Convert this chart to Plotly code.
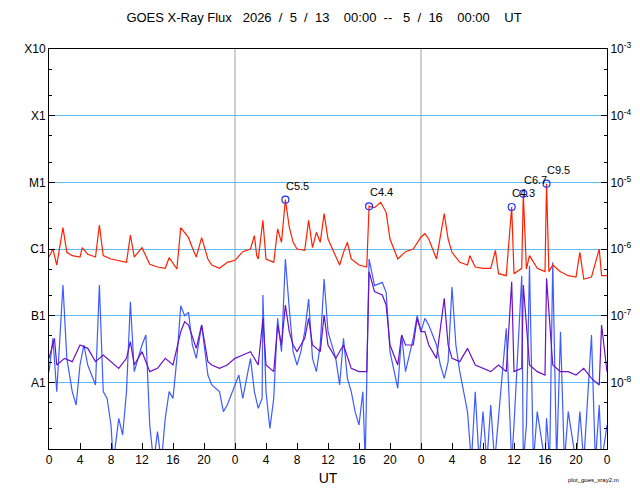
import plotly.graph_objects as go

# hours from 2026-05-13 00:00 UT, values are log10(W/m^2)
long_t = [0,0.5,1,1.8,2.3,3,4,4.3,5,6,6.5,7,8,9,10,10.5,11,12,13,14,15,15.5,16.5,17,17.5,18,18.5,19,19.7,20.5,21,22,23,24,
          25,26,26.5,26.8,27,27.6,28,29,29.5,30,30.5,31,31.5,32,33,33.5,34,34.5,35,35.5,36,37,37.5,38,38.5,39,40,41,41.3,42,42.8,43.5,44,45,46,47,48,
          48.5,49,50,51,51.5,52,53,54,54.3,55,56,57,57.6,58,59,59.7,60,61,61.2,61.6,62,63,64,64.2,64.5,65,66,67,68,68.5,69,70,71,71.3,72]
long_v = [-6.12,-6.0,-6.24,-5.68,-6.05,-6.1,-6.12,-5.98,-6.08,-6.12,-5.64,-6.1,-6.15,-6.17,-6.2,-5.79,-6.12,-5.98,-6.23,-6.27,-6.29,-6.13,-6.3,-5.68,-5.76,-5.83,-5.98,-6.12,-5.83,-6.15,-6.24,-6.29,-6.2,-6.17,
          -6.04,-6.0,-5.8,-6.1,-6.15,-5.57,-6.15,-6.2,-5.7,-5.9,-5.26,-5.67,-5.9,-6.0,-6.02,-5.57,-5.98,-5.75,-5.9,-5.47,-5.85,-6.1,-6.24,-6.05,-5.9,-6.15,-6.24,-6.27,-5.36,-5.38,-5.3,-5.45,-5.85,-6.15,-6.04,-6.0,-5.82,
          -5.77,-5.85,-6.15,-5.47,-5.85,-6.05,-6.2,-6.24,-6.1,-6.27,-6.29,-6.29,-6.02,-6.37,-6.4,-5.37,-6.37,-6.29,-5.17,-6.3,-6.1,-6.29,-6.34,-5.02,-6.34,-6.24,-6.34,-6.4,-6.42,-6.05,-6.45,-6.42,-6.0,-6.4,-6.4]

short_t = [0,0.7,1,2,3,4,5,6,7,8,9,10,10.5,11,12,13,14,15,16,17,17.5,18,19,19.7,20.5,21,22,23,24,
           25,26,27,27.6,28,29,29.5,30,30.5,31,31.5,32,33,33.5,34,35,35.5,36,37,38,39,40,41,41.3,42,43,43.5,44,45,45.5,46,47,47.5,48,
           48.5,49,50,51,51.5,52,53,54,55,56,57,58,59,59.7,60,61,61.2,62,63,64,64.2,65,66,67,68,69,70,71,71.3,72]
short_v = [-7.64,-7.34,-7.74,-7.64,-7.69,-7.44,-7.49,-7.69,-7.59,-7.69,-7.79,-7.64,-7.39,-7.74,-7.54,-7.84,-7.79,-7.64,-7.74,-7.24,-7.09,-7.14,-7.49,-7.14,-7.69,-7.74,-7.79,-7.74,-7.64,
           -7.59,-7.54,-7.74,-7.04,-7.74,-7.84,-7.14,-7.44,-6.84,-7.24,-7.44,-7.54,-7.34,-7.04,-7.44,-7.54,-6.99,-7.44,-7.64,-7.44,-7.79,-7.84,-7.84,-6.34,-6.64,-6.69,-6.84,-7.44,-7.74,-7.29,-7.44,-7.44,-7.04,-7.24,
           -7.24,-7.44,-7.64,-6.74,-7.44,-7.64,-7.69,-7.49,-7.74,-7.79,-7.84,-7.74,-7.84,-6.49,-7.84,-7.79,-6.54,-7.74,-7.84,-7.89,-6.44,-7.74,-7.84,-7.84,-7.89,-7.79,-7.94,-8.04,-7.14,-7.84]

blue_t = [0,0.5,1,1.8,2.3,3,3.5,4,4.5,5,6,6.5,7,7.5,8,8.3,9,9.5,10,10.5,11,12,12.5,13,13.5,14,14.5,15,15.5,16,16.5,17,17.5,18,18.5,19,19.7,20.5,21,22,22.5,23,24,
          24.5,25,26,26.5,27,27.5,27.6,28,28.5,29,29.5,30,30.5,31,31.5,32,32.5,33,33.5,34,34.5,35,35.5,36,37,37.5,38,38.5,39,39.5,40,40.5,40.8,41.3,42,43,43.5,44,44.5,45,45.5,46,47,47.5,48,
          48.5,49,50,50.5,51,51.5,52,52.5,53,53.5,54,54.5,55,55.5,56,56.5,57,57.5,58,59,59.7,60,61,61.2,61.6,62,62.5,63,64,64.2,64.6,65,65.5,66,66.5,67,68,68.5,69,70,70.5,71,71.3,72]
blue_v = [-7.84,-7.34,-8.14,-6.54,-7.64,-8.14,-8.34,-7.74,-7.44,-7.74,-8.04,-6.54,-8.14,-8.24,-8.64,-9.2,-8.54,-8.79,-8.14,-6.79,-7.84,-7.44,-7.29,-8.64,-9.2,-8.74,-9.2,-8.54,-8.14,-8.24,-7.64,-6.85,-7.0,-6.95,-7.44,-7.64,-7.14,-7.89,-8.04,-8.14,-8.44,-8.34,-8.04,
          -7.89,-8.24,-7.64,-8.14,-8.39,-8.24,-6.69,-8.14,-8.69,-8.24,-7.04,-7.54,-6.15,-6.89,-7.54,-7.74,-7.54,-7.24,-6.75,-7.64,-7.84,-7.44,-6.45,-7.24,-7.64,-8.04,-7.34,-7.94,-8.14,-8.44,-8.64,-8.14,-9.2,-6.15,-6.55,-6.5,-6.65,-7.54,-7.84,-8.09,-7.29,-7.84,-7.34,-7.0,-7.24,
          -7.04,-7.14,-7.44,-7.74,-7.94,-7.69,-6.57,-7.44,-7.84,-8.14,-8.44,-9.2,-8.14,-9.2,-8.44,-9.2,-8.34,-9.2,-8.54,-7.19,-9.2,-8.64,-6.4,-9.2,-8.64,-6.25,-9.2,-8.44,-9.2,-8.54,-9.2,-6.2,-9.2,-7.24,-9.2,-8.44,-9.2,-8.44,-9.2,-7.29,-9.2,-8.34,-9.2,-8.64,-7.14,-8.24]

peak_t = [30.5, 41.3, 59.7, 61.2, 64.2]
peak_v = [-5.26, -5.36, -5.37, -5.17, -5.02]
peak_lbl = ["C5.5", "C4.4", "C4.3", "C6.7", "C9.5"]

day_ticks = list(range(0, 73, 4))
day_lbl = [str(h % 24) for h in day_ticks]
class_vals = [1e-8, 1e-7, 1e-6, 1e-5, 1e-4, 1e-3]
class_lbl = ["A1", "B1", "C1", "M1", "X1", "X10"]
exp_lbl = ["10<sup>-8</sup>", "10<sup>-7</sup>", "10<sup>-6</sup>", "10<sup>-5</sup>", "10<sup>-4</sup>", "10<sup>-3</sup>"]

p = lambda v: [10 ** x for x in v]

fig = go.Figure()
fig.add_trace(go.Scatter(x=blue_t, y=p(blue_v), mode="lines", line=dict(color="#3f5cff", width=1.2)))
fig.add_trace(go.Scatter(x=short_t, y=p(short_v), mode="lines", line=dict(color="#6a12c8", width=1.2)))
fig.add_trace(go.Scatter(x=long_t, y=p(long_v), mode="lines", line=dict(color="#ff2000", width=1.2)))
fig.add_trace(go.Scatter(x=peak_t, y=p(peak_v), mode="markers",
                         marker=dict(symbol="circle-open", size=7, color="#2030ff", line=dict(width=1.2))))
fig.add_trace(go.Scatter(x=[0, 72], y=[1e-9, 1e-9], yaxis="y2", mode="lines", line=dict(width=0), hoverinfo="skip"))

for t, v, s in zip(peak_t, peak_v, peak_lbl):
    fig.add_annotation(x=t, y=v, yref="y", text=s, showarrow=False, xshift=12, yshift=14,
                       font=dict(size=11, color="black"))
for d in [24, 48]:
    fig.add_shape(type="line", x0=d, x1=d, y0=0, y1=1, yref="paper", line=dict(color="#a0a0a0", width=1), layer="below")

ax_common = dict(type="log", range=[-9, -3], ticks="inside", ticklen=6, showline=True, linecolor="black",
                 automargin=False,
                 minor=dict(ticks="inside", ticklen=3, tickcolor="black", showgrid=False), tickcolor="black")
fig.update_layout(
    width=632, height=492, margin=dict(l=41, r=33, t=41, b=51, autoexpand=False),
    paper_bgcolor="white", plot_bgcolor="white", showlegend=False,
    font=dict(family="Liberation Sans, Arial", size=12, color="black"),
    title=dict(text="GOES X-Ray Flux   2026  /  5  /  13    00:00  --   5  /  16    00:00    UT",
               x=0.5, xanchor="center", y=0.99, yanchor="top", font=dict(size=13), automargin=False),
    xaxis=dict(range=[0, 72], tickvals=day_ticks, ticktext=day_lbl, ticks="inside", ticklen=6, tickcolor="black",
               showgrid=False, showline=True, linecolor="black", mirror=True, zeroline=False, automargin=False,
               title=dict(text="UT", standoff=6, font=dict(size=14))),
    yaxis=dict(**ax_common, tickvals=class_vals, ticktext=class_lbl, showgrid=True, gridcolor="#5cbcf5", gridwidth=1),
    yaxis2=dict(**ax_common, overlaying="y", side="right", tickvals=class_vals, ticktext=exp_lbl, showgrid=False),
)
fig.add_annotation(x=0.975, y=-0.09, xref="paper", yref="paper", text="plot_goes_xray2.m", showarrow=False,
                   font=dict(size=6), xanchor="center")
fig.write_html("out.html")
